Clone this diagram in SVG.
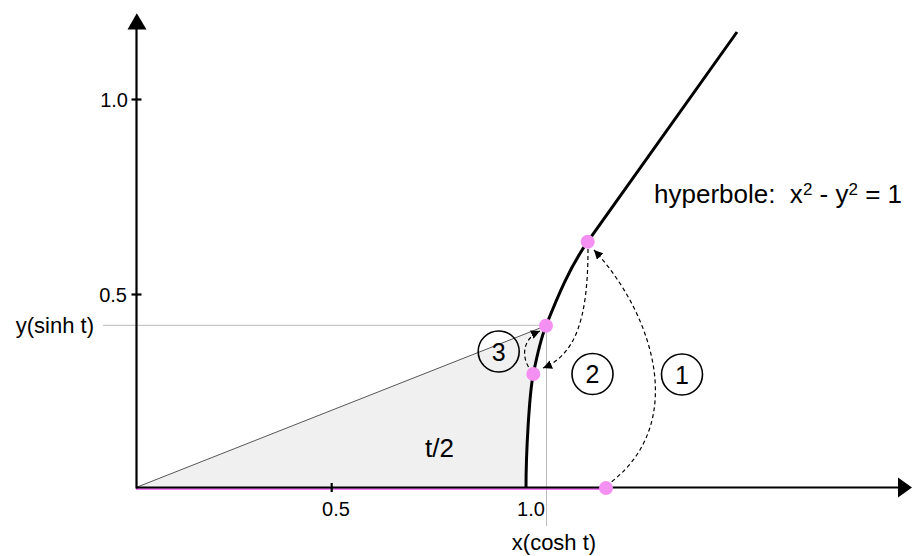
<svg xmlns="http://www.w3.org/2000/svg" width="912" height="556" viewBox="0 0 912 556">
<style>
text{font-family:"Liberation Sans",Arial,sans-serif;fill:#000;}
.tick{font-size:20px;}
.title{font-size:22px;}
.axis{stroke:#000;stroke-width:2.2;fill:none;}
.guide{stroke:#bbb;stroke-width:1;fill:none;}
.dash{stroke:#000;stroke-width:1.2;fill:none;stroke-dasharray:4 3;}
.dot{fill:#f590f3;}
.circ{fill:none;stroke:#000;stroke-width:1.6;}
.num{font-size:25px;text-anchor:middle;}
</style>
<defs>
<marker id="ah" viewBox="0 0 10 10" refX="10" refY="5" markerWidth="9" markerHeight="9" markerUnits="userSpaceOnUse" orient="auto">
<path d="M0,0 L10,5 L0,10 z" fill="#000"/>
</marker>
</defs>
<rect width="912" height="556" fill="#fff"/>
<g id="sector">
<path d="M136,487.5 L546,325.7 C540,340.7 536.3,359 533.3,374 C529.3,394 526,453 526,487.5 Z" fill="#f0f0f0" stroke="none"/>
<line x1="136" y1="487.5" x2="546" y2="325.7" stroke="#444" stroke-width="0.9"/>
</g>
<g id="guides">
<line class="guide" x1="103" y1="325.3" x2="546.5" y2="325.3"/>
<line class="guide" x1="546.5" y1="325.3" x2="546.5" y2="526"/>
</g>
<g id="axes">
<line x1="136" y1="489" x2="606" y2="489" stroke="#f050f0" stroke-width="1.3"/>
<line class="axis" x1="136" y1="487.5" x2="899" y2="487.5"/>
<path d="M898,477.5 L912,487.5 L898,497.5 Z" fill="#000"/>
<line class="axis" x1="136.5" y1="488.5" x2="136.5" y2="28"/>
<path d="M127.5,29.5 L136.8,13.3 L146.5,29.5 Z" fill="#000"/>
<line class="axis" stroke-width="1.6" x1="331.7" y1="483" x2="331.7" y2="492"/>
<line class="axis" stroke-width="1.6" x1="131.5" y1="99.5" x2="141.5" y2="99.5"/>
<line class="axis" stroke-width="1.6" x1="131.5" y1="294.5" x2="141.5" y2="294.5"/>
<text class="tick" x="128" y="106.5" text-anchor="end">1.0</text>
<text class="tick" x="127" y="301.5" text-anchor="end">0.5</text>
<text class="tick" x="336" y="516" text-anchor="middle">0.5</text>
<text class="tick" x="531" y="516" text-anchor="middle">1.0</text>
<text class="title" x="94" y="333" text-anchor="end">y(sinh t)</text>
<text class="title" x="554" y="550" text-anchor="middle">x(cosh t)</text>
</g>
<g id="hyperbola">
<path d="M526,488 C526,453 529.3,394 533.3,374 C536.3,359 540,340.7 546,325.7 C558,295.7 570,266.7 587.7,241.7 L737,32" fill="none" stroke="#000" stroke-width="3"/>
<text x="654" y="203" font-size="26" xml:space="preserve">hyperbole:  x<tspan font-size="17" dy="-8">2</tspan><tspan dy="8"> - y</tspan><tspan font-size="17" dy="-8">2</tspan><tspan dy="8"> = 1</tspan></text>
</g>
<g id="label-t2">
<text x="425" y="457" font-size="26">t/2</text>
</g>
<g id="connectors">
<path class="dash" d="M611.7,481.7 C690,420 650,310 594,250" marker-end="url(#ah)"/>
<path class="dash" d="M588,249 C588,320 575,355 543,368" marker-end="url(#ah)"/>
<path class="dash" d="M528.5,367 C521,354 524,338 540,331" marker-end="url(#ah)"/>
</g>
<g id="points">
<circle class="dot" cx="606" cy="488" r="7"/>
<circle class="dot" cx="587.7" cy="241.7" r="7"/>
<circle class="dot" cx="546" cy="325.7" r="7"/>
<circle class="dot" cx="533.3" cy="374" r="7"/>
</g>
<g id="step-1">
<circle class="circ" cx="682" cy="374.5" r="20.5"/>
<text class="num" x="682" y="383.5">1</text>
</g>
<g id="step-2">
<circle class="circ" cx="592.5" cy="374" r="20.5"/>
<text class="num" x="592.5" y="383">2</text>
</g>
<g id="step-3">
<circle class="circ" cx="498.7" cy="351.5" r="20.5"/>
<text class="num" x="498.7" y="360.5">3</text>
</g>
</svg>
